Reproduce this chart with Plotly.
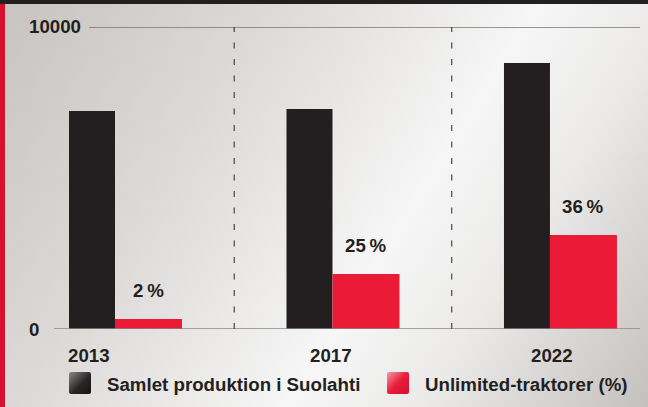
import base64
import plotly.graph_objects as go

# ---- data ----
years = ["2013", "2017", "2022"]
total_production = [7220, 7285, 8810]          # Samlet produktion i Suolahti
unlimited_bar = [330, 1820, 3115]               # bar heights on the same axis
unlimited_pct = ["2\u2009%", "25\u2009%", "36\u2009%"]  # labels above red bars
series_names = ["Samlet produktion i Suolahti", "Unlimited-traktorer (%)"]
y_ticks = [0, 10000]
y_tick_text = ["0", "10000"]

# ---- geometry helpers ----
W, H = 648, 407
L, R, T, B = 54, 8, 27, 78
PW, PH = W - L - R, H - T - B


def px_x(p):
    return (p - L) / PW


def px_y(p):
    return (H - B - p) / PH


FONT = "Liberation Sans, Arial, Helvetica, sans-serif"
TXT = "#231f20"
BLACK = "#231f20"
RED = "#eb1b37"

w_black, w_red = 0.2115, 0.308

svg = f"""<svg xmlns='http://www.w3.org/2000/svg' width='{W}' height='{H}' viewBox='0 0 {W} {H}' preserveAspectRatio='none'>
<defs>
<linearGradient id='bg' x1='0' y1='0' x2='{W}' y2='{H}' gradientUnits='userSpaceOnUse'>
<stop offset='0' stop-color='#c7c3c0'/>
<stop offset='0.3' stop-color='#dcd9d7'/>
<stop offset='0.6' stop-color='#f6f6f6'/>
<stop offset='0.75' stop-color='#ebeae9'/>
<stop offset='1' stop-color='#c4c0bd'/>
</linearGradient>
<linearGradient id='gk' x1='0' y1='0' x2='1' y2='1'>
<stop offset='0' stop-color='#8c8a8a'/>
<stop offset='0.55' stop-color='#2a2627'/>
<stop offset='1' stop-color='#151313'/>
</linearGradient>
<linearGradient id='gr' x1='0' y1='0' x2='1' y2='1'>
<stop offset='0' stop-color='#f59aa8'/>
<stop offset='0.5' stop-color='#ea1c3a'/>
<stop offset='1' stop-color='#d3102e'/>
</linearGradient>
</defs>
<rect x='0' y='0' width='{W}' height='{H}' fill='url(#bg)'/>
<rect x='0' y='0' width='5' height='{H}' fill='#d2122e'/>
<rect x='0' y='0' width='{W}' height='4' fill='#231f20'/>
<rect x='69' y='372' width='22' height='22' rx='2' fill='url(#gk)'/>
<rect x='387' y='372' width='22' height='22' rx='2' fill='url(#gr)'/>
</svg>"""
svg_uri = "data:image/svg+xml;base64," + base64.b64encode(svg.encode()).decode()

fig = go.Figure()
fig.add_trace(go.Bar(
    x=years, y=total_production, name=series_names[0],
    width=w_black, offset=-w_black, marker=dict(color=BLACK, line=dict(width=0)),
))
fig.add_trace(go.Bar(
    x=years, y=unlimited_bar, name=series_names[1],
    width=w_red, offset=0, marker=dict(color=RED, line=dict(width=0)),
))

shapes = []
# top reference line (10000) and baseline (0)
shapes.append(dict(type="line", xref="paper", yref="y", x0=px_x(89), x1=1,
                   y0=y_ticks[1], y1=y_ticks[1], line=dict(color="#7a7472", width=1.6)))
shapes.append(dict(type="line", xref="paper", yref="y", x0=0, x1=1,
                   y0=y_ticks[0], y1=y_ticks[0], line=dict(color="#8d8785", width=1.6)))
# dashed separators between groups
for i in range(len(years) - 1):
    xc = (i + i + 1) / 2 + (w_red - w_black) / 2
    shapes.append(dict(type="line", xref="x", yref="y", x0=xc, x1=xc,
                       y0=y_ticks[0], y1=y_ticks[1],
                       line=dict(color="#4a4646", width=1.2, dash="6px,10.5px")))

annotations = []
font = dict(family=FONT, size=18.7, color=TXT, weight="bold")
# y tick labels
for v, t in zip(y_ticks, y_tick_text):
    annotations.append(dict(x=px_x(27), xref="paper", y=v, yref="y", text=t,
                            showarrow=False, xanchor="left", yanchor="middle",
                            yshift=(1 if v > 0 else 0), font=font))
# category labels
label_shift = [-26, -1, 2]
for i, yr in enumerate(years):
    annotations.append(dict(x=i, xref="x", y=px_y(355), yref="paper", text=yr,
                            showarrow=False, xanchor="center", yanchor="middle",
                            xshift=label_shift[i], font=font))
# percent labels above red bars
for i, (v, t) in enumerate(zip(unlimited_bar, unlimited_pct)):
    annotations.append(dict(x=i + w_red / 2, xref="x", y=v, yref="y", text=t,
                            showarrow=False, xanchor="center", yanchor="middle",
                            yshift=28.5, font=font))
# legend texts
for xpx, name in zip([105, 423], series_names):
    annotations.append(dict(x=px_x(xpx), xref="paper", y=px_y(384), yref="paper",
                            text=name, showarrow=False, xanchor="left", yanchor="middle",
                            font=font))

fig.update_layout(
    width=W, height=H,
    margin=dict(l=L, r=R, t=T, b=B, pad=0),
    paper_bgcolor="#e2dfdd",
    plot_bgcolor="rgba(0,0,0,0)",
    barmode="overlay",
    showlegend=False,
    xaxis=dict(type="category", range=[-0.2805, 2.414], showticklabels=False,
               showgrid=False, zeroline=False, showline=False, fixedrange=True),
    yaxis=dict(range=[0, 10000], showticklabels=False, showgrid=False,
               zeroline=False, showline=False, fixedrange=True),
    shapes=shapes,
    annotations=annotations,
    images=[dict(source=svg_uri, xref="paper", yref="paper",
                 x=-L / PW, y=1 + T / PH, sizex=W / PW, sizey=H / PH,
                 xanchor="left", yanchor="top", sizing="stretch", layer="below")],
)

fig.write_html(
    "out.html",
    config={"displayModeBar": False},
    post_script="document.body.style.margin='0';document.body.style.overflow='hidden';",
)
